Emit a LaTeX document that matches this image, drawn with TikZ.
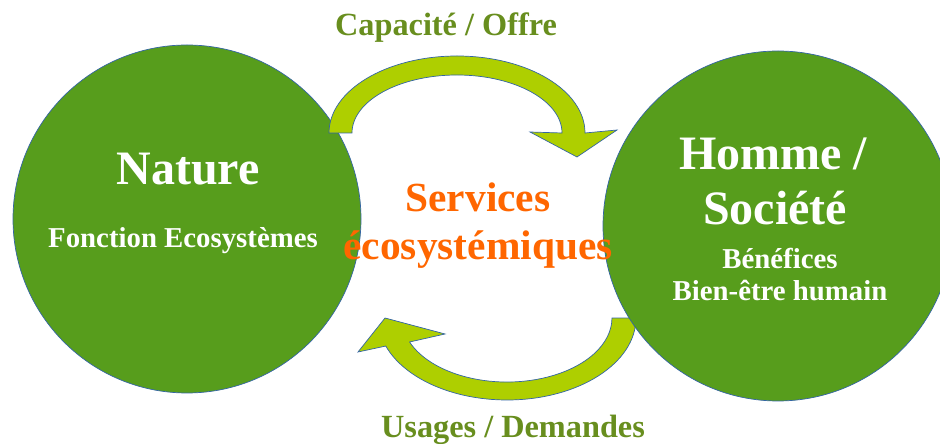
\documentclass[tikz,border=0pt]{standalone}
\usepackage{fontspec}
\setmainfont{Liberation Serif}
\usetikzlibrary{arrows}
\definecolor{leafgreen}{RGB}{87, 157, 28}
\definecolor{limegreen}{RGB}{174, 207, 0}
\definecolor{rimblue}{RGB}{52, 101, 164}
\definecolor{servorange}{RGB}{255, 102, 0}
\definecolor{olivelabel}{RGB}{104, 142, 30}

\begin{document}
\begin{tikzpicture}[x=1pt, y=1pt,
            pole/.style={circle, fill=leafgreen, draw=rimblue, line width=0.7pt, inner sep=0pt},
            flow/.style={fill=limegreen, draw=rimblue, line width=0.7pt, line join=miter},
            poletitle/.style={text=white, anchor=base, font=\bfseries\fontsize{48}{50}\selectfont},
            polesub/.style={text=white, anchor=base, font=\bfseries\fontsize{28.8}{30}\selectfont},
            flowlabel/.style={text=olivelabel, anchor=base, font=\bfseries\fontsize{32.3}{34}\selectfont},
            servlabel/.style={text=servorange, anchor=base, font=\bfseries\fontsize{41.4}{44}\selectfont}]
            % Frame to fix the page
            \useasboundingbox                                                 (  0,   0) rectangle (940, 444);
            % Nature
            \node[pole, minimum size=348pt] (nature)                         at (187, 225) {};
            % Capacite / Offre arrow
            \draw[flow] (329, 311) arc[start angle=180, end angle=0, x radius=128pt, y radius=77pt]
                 -- (617, 314) -- (577, 287) -- (530, 312) -- (562, 311)
                 arc[start angle=0, end angle=180, x radius=105pt, y radius=58pt] -- cycle;
            % Usages / Demandes arrow
            \draw[flow] (636, 126) arc[start angle=0, end angle=-160, x radius=129pt, y radius=82pt]
                 -- (358, 92) -- (385, 126) -- (445, 110) -- (409.6, 102)
                 arc[start angle=-158, end angle=0, x radius=105pt, y radius=64pt] -- cycle;
            % Homme / Societe
            \node[pole, minimum size=350pt] (homme)                          at (778, 218) {};
            % Texts
            \node[poletitle] (naturetitle)                                    at (188, 259) {Nature};
            \node[polesub]   (naturesub)                                      at (183, 196) {Fonction Ecosystèmes};
            \node[poletitle] (hommetitle)                                     at (773, 274) {Homme /};
            \node[poletitle] (societetitle)                                   at (775, 219) {Société};
            \node[polesub]   (benefices)                                      at (780, 175) {Bénéfices};
            \node[polesub]   (bienetre)                                       at (780, 143) {Bien-être humain};
            \node[servlabel] (services)                                       at (478, 232) {Services};
            \node[servlabel] (ecoserv)                                        at (478, 184) {écosystémiques};
            \node[flowlabel] (offre)                                          at (446, 408) {Capacité / Offre};
            \node[flowlabel] (demandes)                                       at (513,   6) {Usages / Demandes};
        \end{tikzpicture}
\end{document}
